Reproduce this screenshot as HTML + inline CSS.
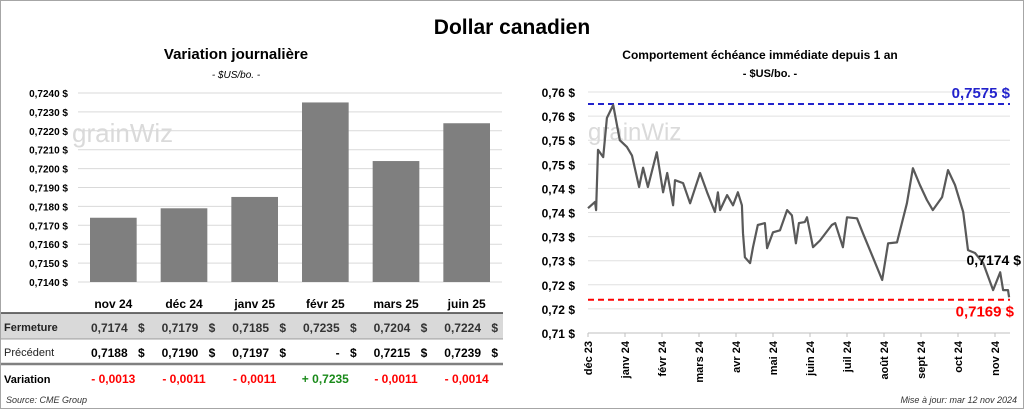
<!DOCTYPE html>
<html><head><meta charset="utf-8">
<style>
html,body{margin:0;padding:0;background:#fff;}
body{width:1024px;height:409px;overflow:hidden;font-family:"Liberation Sans",sans-serif;}
svg text{font-family:"Liberation Sans",sans-serif;}
</style></head>
<body>
<svg id="root" width="1024" height="409" viewBox="0 0 1024 409" xmlns="http://www.w3.org/2000/svg">
<rect x="0.5" y="0.5" width="1023" height="408" fill="#fff" stroke="#a6a6a6"/>
<text x="512" y="34" text-anchor="middle" font-size="21" font-weight="bold" fill="#000">Dollar canadien</text>
<text x="236" y="59" text-anchor="middle" font-size="15" font-weight="bold">Variation  journalière</text>
<text x="236" y="78" text-anchor="middle" font-size="10" font-style="italic">- $US/bo. -</text>
<text x="760" y="59" text-anchor="middle" font-size="12" font-weight="bold">Comportement échéance immédiate depuis 1 an</text>
<text x="770" y="77" text-anchor="middle" font-size="11" font-weight="bold">- $US/bo. -</text>
<g id="left"></g>
<g id="table"></g>
<g id="right"></g>
<text x="6" y="403" font-size="9" font-style="italic" fill="#333">Source: CME Group</text>
<text x="1017" y="403" text-anchor="end" font-size="9" font-style="italic" fill="#333">Mise à jour: mar 12 nov 2024</text>
</svg>
<script>
const barCats = ["nov 24","déc 24","janv 25","févr 25","mars 25","juin 25"];
const barVals = [0.7174,0.7179,0.7185,0.7235,0.7204,0.7224];
const leftTicks = [0.7140,0.7150,0.7160,0.7170,0.7180,0.7190,0.7200,0.7210,0.7220,0.7230,0.7240];
const prevVals = ["0,7188","0,7190","0,7197","-","0,7215","0,7239"];
const varVals = ["- 0,0013","- 0,0011","- 0,0011","+ 0,7235","- 0,0011","- 0,0014"];
const rightTicks = [0.710,0.715,0.720,0.725,0.730,0.735,0.740,0.745,0.750,0.755,0.760];
const rightTickLabels = ["0,71 $","0,72 $","0,72 $","0,73 $","0,73 $","0,74 $","0,74 $","0,75 $","0,75 $","0,76 $","0,76 $"];
const monthLabels = ["déc 23","janv 24","févr 24","mars 24","avr 24","mai 24","juin 24","juil 24","août 24","sept 24","oct 24","nov 24"];
// time in months since start of déc 23
const lineTimes = [0,0.19,0.22,0.27,0.41,0.51,0.68,0.86,1.05,1.19,1.38,1.49,1.62,1.86,2.03,2.14,2.30,2.35,2.57,2.76,3.03,3.22,3.43,3.51,3.57,3.76,3.92,4.05,4.16,4.19,4.24,4.38,4.46,4.59,4.78,4.84,5.00,5.19,5.38,5.51,5.62,5.70,5.86,5.92,6.08,6.27,6.59,6.68,6.89,7.00,7.27,7.43,7.70,7.95,8.11,8.35,8.62,8.78,8.97,9.16,9.32,9.57,9.73,9.92,10.14,10.27,10.46,10.68,10.95,11.14,11.22,11.35,11.38];
const lineVals = [0.7359,0.7372,0.7355,0.7480,0.7465,0.7546,0.7573,0.7500,0.7486,0.7468,0.7403,0.7443,0.7403,0.7475,0.7392,0.7432,0.7365,0.7417,0.7411,0.7369,0.7432,0.7392,0.7351,0.7392,0.7355,0.7386,0.7365,0.7392,0.7365,0.7307,0.7257,0.7245,0.7278,0.7324,0.7328,0.7276,0.7309,0.7313,0.7355,0.7344,0.7286,0.7328,0.7330,0.7340,0.7278,0.7292,0.7324,0.7328,0.7278,0.7340,0.7338,0.7307,0.7257,0.7210,0.7286,0.7288,0.7369,0.7442,0.7407,0.7376,0.7355,0.7382,0.7438,0.7407,0.7351,0.7272,0.7266,0.7245,0.7189,0.7226,0.7189,0.7189,0.7174];
const maxLine = 0.7575, minLine = 0.7169, lastVal = "0,7174 $";
const NS="http://www.w3.org/2000/svg";
function mk(tag,attrs,parent,txt){const e=document.createElementNS(NS,tag);for(const k in attrs)e.setAttribute(k,attrs[k]);if(txt!==undefined)e.textContent=txt;parent.appendChild(e);return e;}
const fmt4=v=>v.toFixed(4).replace('.',',');
// left bar chart
const L=document.getElementById('left');
const lx0=78,lx1=502,ly0=282,ly1=93;
const ly=v=>ly0-(v-0.714)/(0.724-0.714)*(ly0-ly1);
const bw=(lx1-lx0)/barCats.length;
leftTicks.forEach(t=>{
  const g=mk('line',{x1:lx0,x2:lx1,y1:ly(t),y2:ly(t),stroke:'#d9d9d9','stroke-width':1},L);
  
  
  const tx=mk('text',{x:68,y:ly(t)+4,'text-anchor':'end','font-size':10,'font-weight':'bold'},L,fmt4(t)+' $');
  
  
});
const wm1=mk('text',{x:72,y:142,'font-size':26,fill:'#dadada'},L,'grainWiz');


barVals.forEach((v,i)=>{
  const x=lx0+i*bw+12;
  const r=mk('rect',{x:x,y:ly(v),width:bw-24,height:ly0-ly(v),fill:'#7f7f7f'},L);
  
  
});
// table
const T=document.getElementById('table');
const bg=mk('rect',{x:1,y:313,width:502,height:26,fill:'#d9d9d9'},T);


const hl=mk('line',{x1:1,x2:503,y1:313,y2:313,stroke:'#404040','stroke-width':1.5},T);


const ml=mk('line',{x1:1,x2:503,y1:339,y2:339,stroke:'#808080','stroke-width':0.8},T);


const tl=mk('line',{x1:1,x2:503,y1:364,y2:364,stroke:'#808080','stroke-width':2.5},T);


[['Fermeture',331,'bold','#222'],['Précédent',356,'normal','#222'],['Variation',383,'bold','#000']].forEach(r=>{
  const t=mk('text',{x:4,y:r[1],'font-size':11,'font-weight':r[2],fill:r[3]},T,r[0]);
  
  
});
barCats.forEach((c,i)=>{
  const cx=lx0+i*bw+bw/2, rx=lx0+(i+1)*bw-4;
  const h=mk('text',{x:cx,y:308,'text-anchor':'middle','font-size':12,'font-weight':'bold'},T,c);
  
  
  const f=mk('text',{x:rx-17,y:332,'text-anchor':'end','font-size':12,'font-weight':'bold',fill:'#333'},T,fmt4(barVals[i]));
  
  
  const fs=mk('text',{x:rx,y:332,'text-anchor':'end','font-size':12,'font-weight':'bold',fill:'#333'},T,'$');
  
  
  const p=mk('text',{x:rx-17,y:357,'text-anchor':'end','font-size':12,'font-weight':'bold'},T,prevVals[i]);
  
  
  const ps=mk('text',{x:rx,y:357,'text-anchor':'end','font-size':12,'font-weight':'bold'},T,'$');
  
  
  const v=mk('text',{x:cx,y:383,'text-anchor':'middle','font-size':12,'font-weight':'bold',fill:varVals[i][0]=='+'?'#1a8a1a':'#ff0000'},T,varVals[i]);
  
  
});
// right line chart
const R=document.getElementById('right');
const rx0=588,rx1=1010,ry0=333,ry1=92;
const mstep=37;
const ry=v=>ry0-(v-0.710)/(0.760-0.710)*(ry0-ry1);
const rxt=t=>rx0+t*mstep;
rightTicks.forEach((t,i)=>{
  const g=mk('line',{x1:rx0,x2:rx1,y1:ry(t),y2:ry(t),stroke:i==0?'#bfbfbf':'#e0e0e0','stroke-width':1},R);
  
  
  const tx=mk('text',{x:575,y:ry(t)+5,'text-anchor':'end','font-size':12,'font-weight':'bold'},R,rightTickLabels[i]);
  
  
});
monthLabels.forEach((m,i)=>{
  const x=rxt(i);
  const tk=mk('line',{x1:x,x2:x,y1:333,y2:337,stroke:'#bfbfbf'},R);
  
  
  const t=mk('text',{x:0,y:0,'text-anchor':'end','font-size':11,'font-weight':'bold',transform:`translate(${x+4},341) rotate(-90)`},R,m);
  
  
});
const wm2=mk('text',{x:588,y:140,'font-size':24,fill:'#dadada'},R,'grainWiz');


const mx=mk('line',{x1:rx0,x2:rx1,y1:ry(maxLine),y2:ry(maxLine),stroke:'#2222cc','stroke-width':2,'stroke-dasharray':'6,4'},R);


const mn=mk('line',{x1:rx0,x2:rx1,y1:ry(minLine),y2:ry(minLine),stroke:'#ff0000','stroke-width':2,'stroke-dasharray':'6,4'},R);


const n=Math.min(lineTimes.length,lineVals.length);
const pts=[];
for(let i=0;i<n;i++)pts.push(rxt(lineTimes[i]).toFixed(1)+','+ry(lineVals[i]).toFixed(1));
const pl=mk('polyline',{points:pts.join(' '),fill:'none',stroke:'#595959','stroke-width':2.2,'stroke-linejoin':'round'},R);


const mxl=mk('text',{x:1010,y:ry(maxLine)-6,'text-anchor':'end','font-size':15,'font-weight':'bold',fill:'#2222cc'},R,fmt4(maxLine)+' $');


const mnl=mk('text',{x:1014,y:ry(minLine)+17,'text-anchor':'end','font-size':15,'font-weight':'bold',fill:'#ff0000'},R,fmt4(minLine)+' $');


const ll=mk('text',{x:1021,y:265,'text-anchor':'end','font-size':14,'font-weight':'bold'},R,lastVal);


</script>
</body></html>
